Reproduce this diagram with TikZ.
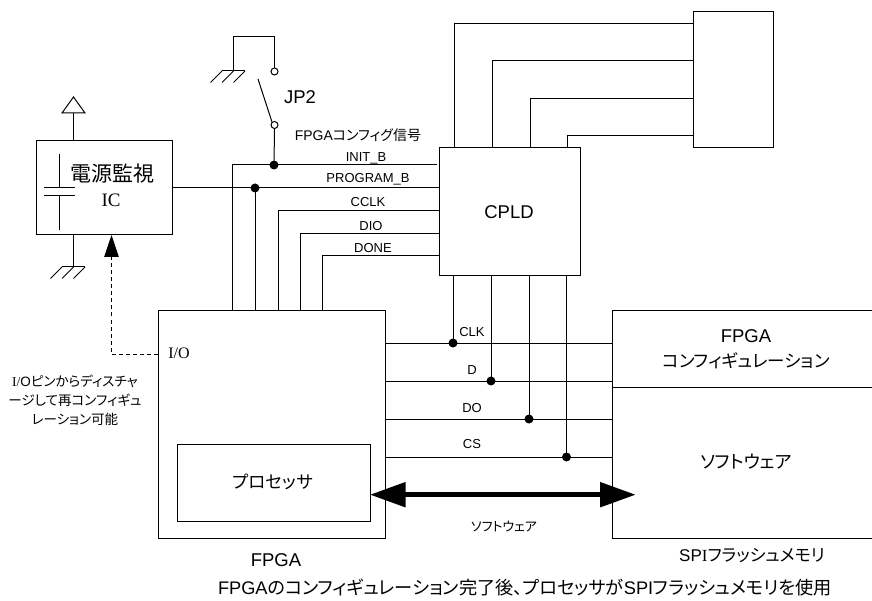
\documentclass[tikz,border=0pt]{standalone}
\usepackage{fontspec}
\setmainfont{Liberation Sans}
\newfontfamily\jpfont[RawFeature=+palt]{Noto Sans CJK JP}
\newfontfamily\ltfont{Liberation Serif}
\usetikzlibrary{arrows.meta,calc,positioning}
\newcommand{\jp}[1]{{\jpfont #1}}
\tikzset{
  unit/.style={draw, line width=1pt, fill=white, inner sep=0pt, outer sep=0pt},
  wire/.style={line width=1pt},
  jdot/.style={circle, fill=black, inner sep=0pt, outer sep=0pt, minimum size=9pt},
  pin/.style={circle, draw, line width=1pt, fill=white, inner sep=0pt, outer sep=0pt, minimum size=7pt},
  sig/.style={inner sep=0pt, font=\fontsize{13}{13}\selectfont},
  big/.style={inner sep=0pt, font=\fontsize{18.5}{18.5}\selectfont},
  kana/.style={inner sep=0pt, font=\fontsize{17.5}{17.5}\selectfont},
}
\begin{document}
\begin{tikzpicture}[x=1pt, y=-1pt, >=Latex]
\clip (0,0) rectangle (872,601);

% Blocks
\node[unit, minimum width=136pt, minimum height=94pt] (monitor) at (104,188) {};
\node[unit, minimum width=227pt, minimum height=227pt] (fpga) at (271.5,424.5) {};
\node[unit, minimum width=193pt, minimum height=77pt] (cpu) at (273.5,482.5) {};
\node[unit, minimum width=140.5pt, minimum height=128pt] (cpld) at (509.75,212) {};
\node[unit, minimum width=80pt, minimum height=136pt] (conn) at (733,80) {};
\node[unit, minimum width=270pt, minimum height=76pt] (cfgarea) at (747,349) {};
\node[unit, minimum width=270pt, minimum height=151pt] (swarea) at (747,462.5) {};

% Jumper JP2
\node[pin] (pinA) at (274.5,71.5) {};
\node[pin] (pinB) at (274.5,125) {};
\coordinate (leverA) at (258,79);
\coordinate (leverB) at (272,122);
\coordinate (jpgnd) at (233.5,71);
\draw[wire] (leverA) -- (leverB);
\draw[wire] (pinA.north) |- (233.5,37) -- (jpgnd);

% Ground symbols
\coordinate (icgnd) at (73.5,267);
\foreach \g in {jpgnd, icgnd} {
  \draw[wire] ($(\g)+(-11.5,0)$) -- ($(\g)+(11.5,0)$);
  \foreach \s in {-23,-11.5,0}
    \draw[wire] ($(\g)+(\s+11.5,0)$) -- ($(\g)+(\s,11.5)$);
}

% Power rail and capacitor of the monitor
\coordinate (vcc) at (73.5,113);
\draw[wire] (62,113) -- (73.5,97) -- (85,113) -- cycle;
\draw[wire] (vcc) -- (monitor.north -| vcc);
\draw[wire] (monitor.south -| icgnd) -- (icgnd);
\draw[wire] (59.5,154) -- (59.5,188);
\draw[wire] (44,188) -- (75,188);
\draw[wire] (44,196) -- (75,196);
\draw[wire] (59.5,196) -- (59.5,230);

% Configuration signals
\node[jdot] (jinit) at (274,165) {};
\node[jdot] (jprog) at (255,188) {};
\coordinate (initend) at (437,165);
\draw[wire] (pinB.south) -- (jinit);
\draw[wire] (fpga.north -| 232,0) |- (initend);
\draw[wire] (monitor.east |- jprog) -- (cpld.west |- jprog);
\draw[wire] (fpga.north -| jprog) -- (jprog);
\foreach \wx/\wy in {278/211, 300/234, 322/256}
  \draw[wire] (fpga.north -| \wx,0) |- (cpld.west |- 0,\wy);

% CPLD to the upper right block
\foreach \wx/\wy in {454/24, 492/61, 530/99, 567/136}
  \draw[wire] (cpld.north -| \wx,0) |- (conn.west |- 0,\wy);

% SPI bus
\node[jdot] (jclk) at (453,343) {};
\node[jdot] (jd) at (491,381) {};
\node[jdot] (jdo) at (529,419) {};
\node[jdot] (jcs) at (566.5,457) {};
\foreach \j in {jclk, jd, jdo, jcs} {
  \draw[wire] (fpga.east |- \j) -- (swarea.west |- \j);
  \draw[wire] (cpld.south -| \j) -- (\j);
}

% Discharge path and software bus
\coordinate (iopin) at (111.5,354);
\draw[wire, dash pattern=on 4pt off 3pt] (fpga.west |- iopin) -- (iopin) -- (iopin |- 0,250);
\draw[-{Triangle[length=22pt,width=14.5pt]}, wire] (iopin |- 0,250) -- (monitor.south -| iopin);
\draw[{Triangle[length=35.5pt,width=24pt]}-{Triangle[length=35.5pt,width=24pt]}, line width=5pt]
  (cpu.east |- 0,494.7) -- (635.7,494.7);

% Labels
\node[inner sep=0pt, font=\fontsize{21}{21}\selectfont] (mname) at (112,174) {\jp{電源監視}};
\node[inner sep=0pt, font=\ltfont\fontsize{19}{19}\selectfont] (mic) at (111,200) {IC};
\node[big] (jplabel) at (300,97) {JP2};
\node[sig, font=\fontsize{14}{14}\selectfont] (cfgtitle) at (358,135) {FPGA\jp{コンフィグ信号}};
\node[sig] (linit) at (366,158) {INIT\_B};
\node[sig] (lprog) at (368,179) {PROGRAM\_B};
\node[sig] (lcclk) at (368,202) {CCLK};
\node[sig] (ldio) at (371,226) {DIO};
\node[sig] (ldone) at (373,248) {DONE};
\node[big] (lcpld) at (509,212) {CPLD};
\node[sig] (lclk) at (472,332) {CLK};
\node[sig] (ld) at (472,370) {D};
\node[sig] (ldo) at (472,408) {DO};
\node[sig] (lcs) at (472,444) {CS};
\node[big] (lrom) at (746,336) {FPGA};
\node[kana] (lcfg) at (746,361) {\jp{コンフィギュレーション}};
\node[kana, font=\fontsize{18}{18}\selectfont] (lsw) at (746,462) {\jp{ソフトウェア}};
\node[sig] (lbus) at (504,527) {\jp{ソフトウェア}};
\node[kana] (lcpu) at (273,482) {\jp{プロセッサ}};
\node[big] (lfpga) at (276,560) {FPGA};
\node[inner sep=0pt, font=\fontsize{17}{17}\selectfont] (lspi) at (752,556) {SP{\ltfont I}\jp{フラッシュメモリ}};
\node[inner sep=0pt, font=\fontsize{18.2}{18.2}\selectfont] (lnote) at (525,588) {FPGA\jp{のコンフィギュレーション完了後、プロセッサが}SPI\jp{フラッシュメモリを使用}};
\node[sig, font=\ltfont\fontsize{16}{16}\selectfont] (lio) at (179,353) {I/O};
\node[inner sep=0pt, align=center, font=\fontsize{13.5}{19}\selectfont] (ldis) at (75,400)
  {{\ltfont I/}O\jp{ピンからディスチャ}\\\jp{ージして再コンフィギュ}\\\jp{レーション可能}};

\end{tikzpicture}
\end{document}
